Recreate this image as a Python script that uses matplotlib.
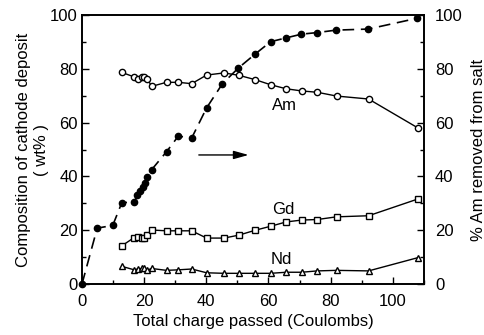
import matplotlib
matplotlib.use("Agg")
import matplotlib.pyplot as plt
from matplotlib.ticker import MultipleLocator

plt.rcParams['font.family'] = ['Liberation Sans', 'DejaVu Sans']

# % Am removed from salt (right axis, filled circles, dashed)
removed_x = [0, 4.9, 9.9, 12.8, 16.9, 17.8, 18.6, 19.5, 20.2, 21.0, 22.4, 27.2,
             31.0, 35.3, 40.1, 45.2, 50.3, 55.6, 60.7, 65.6, 70.6, 75.7, 81.7, 92.1, 107.8]
removed_y = [0, 20.8, 21.8, 30.2, 30.6, 33.1, 34.7, 36.0, 37.4, 39.7, 42.5, 49.2,
             55.0, 54.3, 65.5, 74.5, 80.3, 85.4, 90.1, 91.5, 92.9, 93.5, 94.4, 94.8, 98.8]

# cathode deposit composition (left axis)
comp_x = [12.8, 16.8, 17.9, 19.3, 19.9, 21.0, 22.4, 27.2, 31.0, 35.3, 40.1, 45.7,
          50.5, 55.7, 60.7, 65.7, 70.7, 75.7, 81.9, 92.2, 108.0]
am = [78.7, 77.0, 76.3, 76.8, 76.8, 76.4, 73.5, 75.0, 75.0, 74.5, 77.7, 78.5,
      77.6, 76.0, 74.1, 72.6, 71.8, 71.3, 69.9, 68.8, 58.1]
gd = [14.2, 17.3, 17.4, 17.3, 17.3, 18.4, 20.1, 19.8, 19.8, 19.8, 17.1, 17.1,
      18.2, 20.0, 21.5, 23.1, 23.8, 24.0, 25.0, 25.4, 31.6]
nd = [6.6, 5.3, 5.6, 5.8, 5.8, 5.2, 5.8, 5.1, 5.3, 5.6, 4.2, 4.0,
      4.0, 4.0, 4.0, 4.4, 4.4, 4.9, 5.1, 4.9, 9.8]

fig = plt.figure(figsize=(4.85, 3.35), dpi=100)
ax = fig.add_axes([0.169, 0.152, 0.705, 0.803])
ax2 = ax.twinx()

ax.plot(comp_x, am, '-', color='black', lw=1.0, marker='o', ms=4.5,
        mfc='white', mec='black', mew=1.0)
ax.plot(comp_x, gd, '-', color='black', lw=1.0, marker='s', ms=5,
        mfc='white', mec='black', mew=1.0)
ax.plot(comp_x, nd, '-', color='black', lw=1.0, marker='^', ms=5,
        mfc='white', mec='black', mew=1.0)
ax2.plot(removed_x, removed_y, color='black', lw=1.2, ls=(0, (7, 4)),
         marker='o', ms=4.5, mfc='black', mec='black', clip_on=False)

ax.text(65.3, 66.4, 'Am', fontsize=12, ha='center', va='center')
ax.text(64.7, 27.9, 'Gd', fontsize=12, ha='center', va='center')
ax.text(64.2, 9.2, 'Nd', fontsize=12, ha='center', va='center')
ax.annotate('', xy=(54.5, 48), xytext=(36.7, 48),
            arrowprops=dict(arrowstyle='-|>,head_length=0.9,head_width=0.25',
                            color='black', lw=1.0))

ax.set_xlim(0, 110)
ax.set_ylim(0, 100)
ax2.set_ylim(0, 100)
ax.xaxis.set_major_locator(MultipleLocator(20))
ax.xaxis.set_minor_locator(MultipleLocator(10))
ax.yaxis.set_major_locator(MultipleLocator(20))
ax.yaxis.set_minor_locator(MultipleLocator(10))
ax2.yaxis.set_major_locator(MultipleLocator(20))
ax2.yaxis.set_minor_locator(MultipleLocator(10))

ax.tick_params(axis='both', which='major', direction='in', length=5, width=1,
               labelsize=12, pad=3)
ax.tick_params(axis='both', which='minor', direction='in', length=3, width=1)
ax.tick_params(axis='x', pad=7)
ax2.tick_params(axis='y', which='major', direction='in', length=5, width=1,
                labelsize=12, pad=8)
ax2.tick_params(axis='y', which='minor', direction='in', length=3, width=1)

for a in (ax, ax2):
    for s in a.spines.values():
        s.set_linewidth(1.2)

ax.set_xlabel('Total charge passed (Coulombs)', fontsize=12, labelpad=4)
ax.set_ylabel('Composition of cathode deposit\n( wt% )', fontsize=12,
              labelpad=1, linespacing=1.25)
ax2.set_ylabel('% Am removed from salt', fontsize=12, labelpad=6)

fig.savefig('out.png', dpi=100)
